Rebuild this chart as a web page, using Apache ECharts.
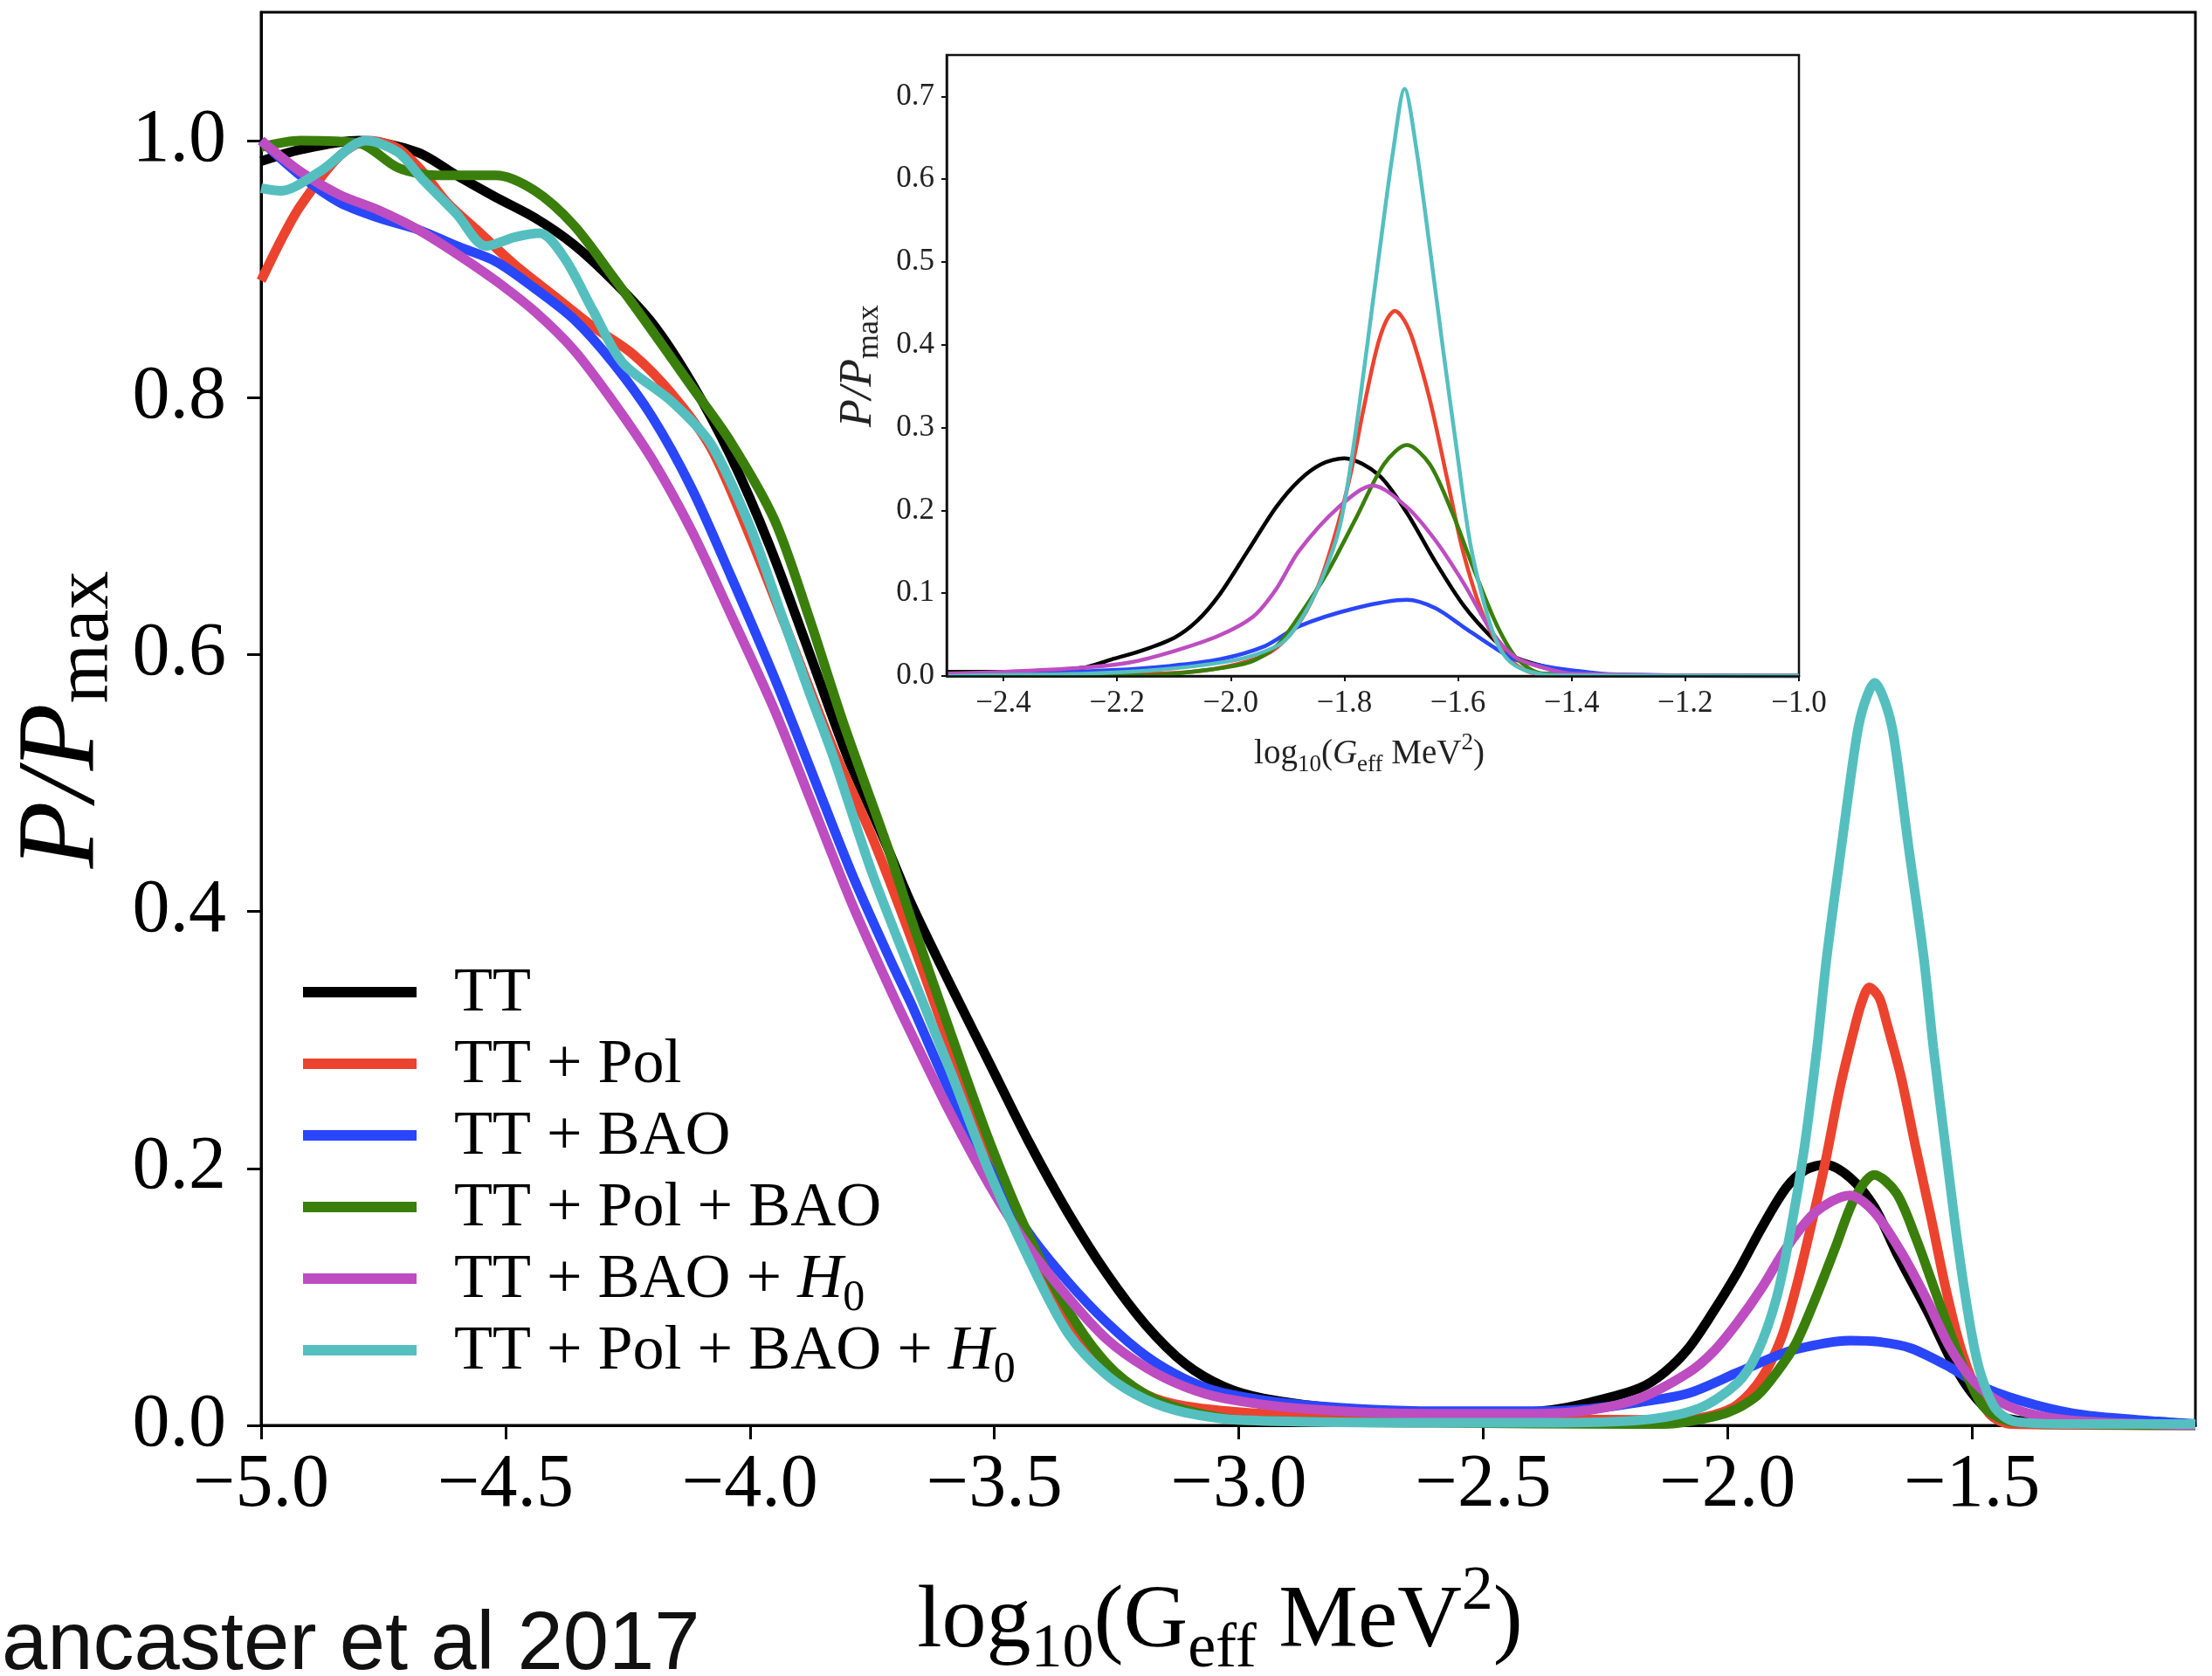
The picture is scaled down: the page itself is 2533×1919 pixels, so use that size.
<!DOCTYPE html>
<html><head><meta charset="utf-8">
<script src="https://cdn.jsdelivr.net/npm/echarts@6/dist/echarts.min.js"></script>
<style>html,body{margin:0;padding:0;background:#fff}#c{width:2533px;height:1919px}</style>
</head><body><div id="c"></div>
<script>
const SERIES_NAMES = ['TT', 'TT + Pol', 'TT + BAO', 'TT + Pol + BAO', 'TT + BAO + H0', 'TT + Pol + BAO + H0'];
const COLORS = ['#000000', '#ec432f', '#2a46fa', '#3a7f0b', '#bd4dc1', '#55bfbf'];

const MAIN_X_TICKS = [-5.0, -4.5, -4.0, -3.5, -3.0, -2.5, -2.0, -1.5];
const MAIN_Y_TICKS = [0.0, 0.2, 0.4, 0.6, 0.8, 1.0];
const INSET_X_TICKS = [-2.4, -2.2, -2.0, -1.8, -1.6, -1.4, -1.2, -1.0];
const INSET_Y_TICKS = [0.0, 0.1, 0.2, 0.3, 0.4, 0.5, 0.6, 0.7];

// ---- main panel curves [log10 Geff, P/Pmax]
const TT_MAIN = [[-5.00,0.984],[-4.92,0.993],[-4.80,1.000],[-4.68,0.991],[-4.60,0.973],[-4.52,0.956],[-4.44,0.940],[-4.36,0.919],[-4.28,0.891],[-4.20,0.858],[-4.12,0.812],[-4.04,0.755],[-3.96,0.685],[-3.88,0.603],[-3.80,0.520],[-3.73,0.460],[-3.67,0.406],[-3.59,0.343],[-3.51,0.282],[-3.43,0.221],[-3.35,0.166],[-3.27,0.118],[-3.19,0.078],[-3.11,0.048],[-3.03,0.030],[-2.95,0.021],[-2.79,0.013],[-2.60,0.010],[-2.45,0.010],[-2.36,0.012],[-2.28,0.018],[-2.18,0.029],[-2.13,0.041],[-2.08,0.060],[-2.03,0.088],[-1.98,0.119],[-1.93,0.154],[-1.88,0.185],[-1.84,0.199],[-1.80,0.203],[-1.75,0.193],[-1.70,0.170],[-1.65,0.131],[-1.59,0.088],[-1.54,0.049],[-1.50,0.025],[-1.46,0.010],[-1.41,0.004],[-1.30,0.001],[-1.043,0.000]];
const POL_MAIN = [[-5.00,0.891],[-4.96,0.922],[-4.92,0.949],[-4.84,0.988],[-4.78,1.000],[-4.72,0.994],[-4.67,0.976],[-4.62,0.952],[-4.56,0.931],[-4.48,0.903],[-4.40,0.879],[-4.32,0.855],[-4.24,0.834],[-4.16,0.803],[-4.08,0.761],[-4.00,0.692],[-3.92,0.615],[-3.83,0.527],[-3.75,0.458],[-3.67,0.379],[-3.59,0.294],[-3.51,0.212],[-3.43,0.142],[-3.35,0.084],[-3.27,0.045],[-3.19,0.024],[-3.11,0.015],[-2.95,0.009],[-2.70,0.006],[-2.40,0.005],[-2.10,0.004],[-2.03,0.008],[-1.98,0.016],[-1.93,0.037],[-1.89,0.068],[-1.86,0.107],[-1.83,0.154],[-1.80,0.205],[-1.77,0.263],[-1.74,0.310],[-1.725,0.330],[-1.71,0.341],[-1.69,0.333],[-1.675,0.314],[-1.645,0.271],[-1.615,0.216],[-1.584,0.162],[-1.554,0.107],[-1.523,0.060],[-1.493,0.029],[-1.462,0.008],[-1.42,0.001],[-1.043,0.000]];
const BAO_MAIN = [[-5.00,1.000],[-4.92,0.973],[-4.84,0.952],[-4.76,0.940],[-4.68,0.931],[-4.60,0.918],[-4.52,0.906],[-4.44,0.885],[-4.36,0.861],[-4.28,0.827],[-4.20,0.785],[-4.12,0.730],[-4.04,0.662],[-3.95,0.582],[-3.87,0.505],[-3.79,0.428],[-3.71,0.360],[-3.67,0.328],[-3.59,0.259],[-3.51,0.200],[-3.43,0.150],[-3.35,0.112],[-3.27,0.080],[-3.19,0.054],[-3.11,0.036],[-3.03,0.025],[-2.87,0.016],[-2.60,0.011],[-2.40,0.011],[-2.28,0.013],[-2.18,0.018],[-2.08,0.025],[-1.98,0.041],[-1.88,0.057],[-1.80,0.064],[-1.75,0.066],[-1.69,0.065],[-1.625,0.060],[-1.544,0.045],[-1.473,0.029],[-1.371,0.016],[-1.27,0.008],[-1.118,0.003],[-1.043,0.001]];
const POLBAO_MAIN = [[-5.00,0.995],[-4.92,1.000],[-4.80,0.998],[-4.72,0.979],[-4.64,0.973],[-4.52,0.973],[-4.44,0.961],[-4.36,0.934],[-4.28,0.894],[-4.20,0.852],[-4.12,0.809],[-4.04,0.766],[-3.95,0.705],[-3.88,0.630],[-3.81,0.548],[-3.72,0.452],[-3.67,0.394],[-3.59,0.306],[-3.51,0.221],[-3.43,0.148],[-3.35,0.090],[-3.27,0.048],[-3.19,0.024],[-3.11,0.012],[-2.99,0.004],[-2.60,0.002],[-2.20,0.001],[-2.13,0.001],[-2.08,0.003],[-2.00,0.010],[-1.94,0.023],[-1.90,0.041],[-1.86,0.064],[-1.82,0.099],[-1.78,0.138],[-1.74,0.177],[-1.70,0.195],[-1.655,0.181],[-1.615,0.146],[-1.574,0.103],[-1.533,0.060],[-1.503,0.033],[-1.473,0.013],[-1.42,0.003],[-1.30,0.001],[-1.043,0.000]];
const BAOH0_MAIN = [[-5.00,1.000],[-4.92,0.976],[-4.84,0.958],[-4.76,0.946],[-4.68,0.931],[-4.60,0.912],[-4.52,0.891],[-4.44,0.867],[-4.36,0.837],[-4.28,0.797],[-4.20,0.752],[-4.12,0.697],[-4.04,0.632],[-3.95,0.557],[-3.87,0.481],[-3.79,0.405],[-3.71,0.337],[-3.67,0.305],[-3.59,0.243],[-3.51,0.187],[-3.43,0.139],[-3.35,0.100],[-3.27,0.067],[-3.19,0.045],[-3.11,0.030],[-3.03,0.021],[-2.87,0.013],[-2.60,0.009],[-2.40,0.009],[-2.28,0.012],[-2.18,0.021],[-2.08,0.041],[-2.03,0.057],[-1.98,0.080],[-1.93,0.107],[-1.88,0.138],[-1.82,0.166],[-1.75,0.179],[-1.70,0.166],[-1.645,0.135],[-1.594,0.099],[-1.544,0.060],[-1.493,0.033],[-1.442,0.018],[-1.371,0.008],[-1.27,0.003],[-1.043,0.000]];
const ALL_MAIN = [[-5.00,0.963],[-4.96,0.961],[-4.88,0.976],[-4.785,1.000],[-4.72,0.991],[-4.67,0.970],[-4.60,0.943],[-4.54,0.918],[-4.48,0.925],[-4.43,0.928],[-4.38,0.909],[-4.32,0.867],[-4.26,0.827],[-4.16,0.797],[-4.08,0.764],[-4.00,0.700],[-3.94,0.636],[-3.88,0.572],[-3.83,0.521],[-3.75,0.430],[-3.67,0.352],[-3.59,0.276],[-3.51,0.197],[-3.43,0.130],[-3.35,0.072],[-3.27,0.039],[-3.19,0.020],[-3.11,0.010],[-2.99,0.004],[-2.60,0.002],[-2.38,0.002],[-2.18,0.004],[-2.06,0.013],[-1.98,0.033],[-1.94,0.056],[-1.90,0.099],[-1.868,0.158],[-1.843,0.216],[-1.817,0.294],[-1.797,0.365],[-1.767,0.451],[-1.736,0.536],[-1.72,0.562],[-1.699,0.578],[-1.677,0.562],[-1.660,0.536],[-1.630,0.451],[-1.599,0.365],[-1.579,0.294],[-1.554,0.216],[-1.528,0.138],[-1.503,0.076],[-1.483,0.041],[-1.452,0.013],[-1.412,0.003],[-1.30,0.001],[-1.043,0.001]];

// ---- inset curves
const TT_INSET = [[-2.50,0.005],[-2.35,0.005],[-2.26,0.010],[-2.21,0.020],[-2.16,0.030],[-2.10,0.046],[-2.06,0.066],[-2.02,0.098],[-1.97,0.151],[-1.92,0.204],[-1.88,0.236],[-1.84,0.256],[-1.80,0.263],[-1.74,0.243],[-1.69,0.197],[-1.64,0.138],[-1.59,0.085],[-1.54,0.046],[-1.50,0.023],[-1.45,0.012],[-1.40,0.005],[-1.31,0.001],[-1.00,0.000]];
const POL_INSET = [[-2.50,0.000],[-2.19,0.002],[-2.07,0.005],[-1.99,0.014],[-1.93,0.029],[-1.885,0.059],[-1.85,0.102],[-1.82,0.162],[-1.79,0.241],[-1.767,0.320],[-1.744,0.393],[-1.727,0.428],[-1.711,0.441],[-1.695,0.430],[-1.679,0.405],[-1.649,0.332],[-1.620,0.241],[-1.591,0.150],[-1.555,0.072],[-1.520,0.029],[-1.485,0.008],[-1.44,0.001],[-1.00,0.000]];
const BAO_INSET = [[-2.50,0.002],[-2.35,0.003],[-2.21,0.007],[-2.11,0.012],[-2.02,0.020],[-1.94,0.036],[-1.88,0.060],[-1.78,0.082],[-1.69,0.092],[-1.64,0.082],[-1.59,0.059],[-1.54,0.036],[-1.50,0.020],[-1.45,0.012],[-1.40,0.007],[-1.33,0.002],[-1.00,0.000]];
const POLBAO_INSET = [[-2.50,0.000],[-2.14,0.001],[-2.07,0.005],[-1.97,0.016],[-1.92,0.036],[-1.88,0.072],[-1.83,0.125],[-1.78,0.190],[-1.73,0.256],[-1.69,0.279],[-1.65,0.256],[-1.61,0.197],[-1.57,0.125],[-1.53,0.059],[-1.495,0.020],[-1.45,0.003],[-1.00,0.000]];
const BAOH0_INSET = [[-2.50,0.003],[-2.40,0.005],[-2.26,0.010],[-2.18,0.016],[-2.10,0.030],[-2.02,0.049],[-1.96,0.072],[-1.92,0.105],[-1.88,0.151],[-1.81,0.204],[-1.75,0.230],[-1.69,0.204],[-1.64,0.164],[-1.59,0.112],[-1.54,0.053],[-1.50,0.023],[-1.45,0.010],[-1.40,0.003],[-1.00,0.000]];
const ALL_INSET = [[-2.50,0.000],[-2.43,0.001],[-2.25,0.003],[-2.12,0.008],[-2.01,0.017],[-1.955,0.026],[-1.908,0.041],[-1.873,0.072],[-1.838,0.120],[-1.808,0.181],[-1.785,0.272],[-1.761,0.393],[-1.738,0.514],[-1.714,0.635],[-1.694,0.709],[-1.673,0.635],[-1.649,0.514],[-1.626,0.393],[-1.602,0.272],[-1.579,0.162],[-1.555,0.090],[-1.532,0.041],[-1.508,0.017],[-1.473,0.005],[-1.426,0.001],[-1.00,0.000]];

const MAIN_DATA = [TT_MAIN, POL_MAIN, BAO_MAIN, POLBAO_MAIN, BAOH0_MAIN, ALL_MAIN];
const INSET_DATA = [TT_INSET, POL_INSET, BAO_INSET, POLBAO_INSET, BAOH0_INSET, ALL_INSET];

const SERIF = "'Liberation Serif', 'Times New Roman', serif";
const fmt = v => (v < 0 ? '\u2212' : '') + Math.abs(v).toFixed(1);

// lays out math-like text pieces (with sub/superscripts) along a common baseline
const measureCtx = document.createElement('canvas').getContext('2d');
function mathLabel(parts, x, y, rotation, color) {
  const widths = parts.map(p => {
    measureCtx.font = (p.it ? 'italic ' : '') + p.s + 'px ' + SERIF;
    return measureCtx.measureText(p.t).width;
  });
  const total = widths.reduce((a, b) => a + b, 0);
  let cx = -total / 2;
  const children = parts.map((p, k) => {
    const el = {type: 'text', x: cx, y: (p.dy || 0) - 0.3375 * p.s,
      style: {text: p.t, fontSize: p.s, fontFamily: SERIF, fontStyle: p.it ? 'italic' : 'normal',
              fill: color, align: 'left', verticalAlign: 'middle'}};
    cx += widths[k];
    return el;
  });
  return {type: 'group', x: x, y: y, rotation: rotation || 0, z: 100, children: children};
}

const chart = echarts.init(document.getElementById('c'), null, {renderer: 'canvas'});

const series = [];
SERIES_NAMES.forEach((n, i) => {
  series.push({
    name: n, type: 'line', xAxisIndex: 0, yAxisIndex: 0, data: MAIN_DATA[i],
    symbol: 'none', showSymbol: false, smooth: 0.3, clip: true,
    lineStyle: {width: 11, color: COLORS[i]}, itemStyle: {color: COLORS[i]}, z: 2 + i
  });
});
SERIES_NAMES.forEach((n, i) => {
  series.push({
    name: n, type: 'line', xAxisIndex: 1, yAxisIndex: 1, data: INSET_DATA[i],
    symbol: 'none', showSymbol: false, smooth: 0.3, clip: true,
    lineStyle: {width: 4.5, color: COLORS[i]}, itemStyle: {color: COLORS[i]}, z: 20 + i
  });
});

const LH = 82;
const PADT = 14;
const legendRich = {
  m: {fontFamily: SERIF, fontSize: 72, lineHeight: LH, verticalAlign: 'top', color: '#000'},
  i: {fontFamily: SERIF, fontSize: 72, fontStyle: 'italic', lineHeight: LH, verticalAlign: 'top', color: '#000'},
  s: {fontFamily: SERIF, fontSize: 50, lineHeight: LH, verticalAlign: 'bottom', color: '#000'}
};

chart.setOption({
  animation: false,
  backgroundColor: '#fff',
  grid: [
    {left: 299, top: 14, width: 2215, height: 1618, show: true, borderColor: '#000', borderWidth: 3, backgroundColor: 'transparent', containLabel: false, outerBoundsMode: 'none'},
    {left: 1084, top: 63, width: 976, height: 711, show: true, borderColor: '#111', borderWidth: 2.5, backgroundColor: '#fff', containLabel: false, outerBoundsMode: 'none', z: 10}
  ],
  xAxis: [
    {type: 'value', gridIndex: 0, min: -5, max: -1.043,
     axisLine: {show: true, onZero: false, lineStyle: {color: '#000', width: 3}},
     axisTick: {show: true, inside: false, length: 16, lineStyle: {color: '#000', width: 3}, customValues: MAIN_X_TICKS},
     axisLabel: {show: true, customValues: MAIN_X_TICKS, formatter: fmt, fontFamily: SERIF, fontSize: 86, color: '#000', margin: 26},
     splitLine: {show: false}},
    {type: 'value', gridIndex: 1, min: -2.5, max: -1.0, z: 30,
     axisLine: {show: true, onZero: false, lineStyle: {color: '#111', width: 2.5}},
     axisTick: {show: true, inside: false, length: 6, lineStyle: {color: '#111', width: 2}, customValues: INSET_X_TICKS},
     axisLabel: {show: true, customValues: INSET_X_TICKS, formatter: fmt, fontFamily: SERIF, fontSize: 35, color: '#222', margin: 14},
     splitLine: {show: false}}
  ],
  yAxis: [
    {type: 'value', gridIndex: 0, min: 0, max: 1.1,
     axisLine: {show: true, onZero: false, lineStyle: {color: '#000', width: 3}},
     axisTick: {show: true, inside: false, length: 16, lineStyle: {color: '#000', width: 3}, customValues: MAIN_Y_TICKS},
     axisLabel: {show: true, customValues: MAIN_Y_TICKS, formatter: v => v.toFixed(1), fontFamily: SERIF, fontSize: 86, color: '#000', margin: 40},
     splitLine: {show: false}},
    {type: 'value', gridIndex: 1, min: 0, max: 0.75, z: 30,
     axisLine: {show: true, onZero: false, lineStyle: {color: '#111', width: 2.5}},
     axisTick: {show: true, inside: false, length: 6, lineStyle: {color: '#111', width: 2}, customValues: INSET_Y_TICKS},
     axisLabel: {show: true, customValues: INSET_Y_TICKS, formatter: v => v.toFixed(1), fontFamily: SERIF, fontSize: 35, color: '#222', margin: 14},
     splitLine: {show: false}}
  ],
  legend: {
    data: SERIES_NAMES, orient: 'vertical', left: 347, top: 1136 - (LH + PADT) / 2, padding: 0,
    icon: 'rect', itemWidth: 130, itemHeight: 12, itemGap: -PADT,
    formatter: name => name.indexOf('H0') >= 0 ? '{m|' + name.replace('H0', '}{i|H}{s|0}') : '{m|' + name + '}',
    textStyle: {fontFamily: SERIF, fontSize: 72, lineHeight: LH, color: '#000', padding: [PADT, 0, 0, 38], rich: legendRich},
    selectedMode: false
  },
  graphic: [
    mathLabel([{t: 'log', s: 102}, {t: '10', s: 72, dy: 20}, {t: '(G', s: 102}, {t: 'eff', s: 72, dy: 20},
               {t: ' MeV', s: 102}, {t: '2', s: 72, dy: -46}, {t: ')', s: 102}], 1397, 1893, 0, '#000'),
    mathLabel([{t: 'P/P', s: 126, it: true}, {t: 'max', s: 88, dy: 14}], 116, 824, Math.PI / 2, '#000'),
    mathLabel([{t: 'log', s: 39}, {t: '10', s: 27, dy: 8}, {t: '(', s: 39}, {t: 'G', s: 39, it: true}, {t: 'eff', s: 27, dy: 8},
               {t: ' MeV', s: 39}, {t: '2', s: 27, dy: -17}, {t: ')', s: 39}], 1568, 877, 0, '#222'),
    mathLabel([{t: 'P/P', s: 52, it: true}, {t: 'max', s: 36, dy: 7}], 1001, 419, Math.PI / 2, '#222'),
    {type: 'text', x: 2, y: 1885, z: 100,
     style: {text: 'ancaster et al 2017', fontFamily: "'Liberation Sans', Arial, sans-serif", fontSize: 94, fill: '#111', align: 'left', verticalAlign: 'middle'}}
  ],
  series: series
});
</script></body></html>
